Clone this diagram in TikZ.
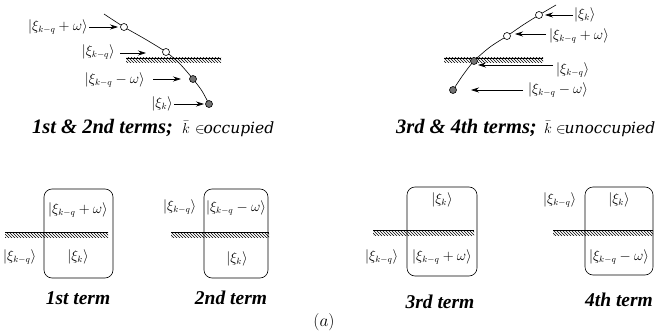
\documentclass[tikz,border=0pt]{standalone}
\usepackage{fontspec}
\setmainfont{Liberation Serif}
\newfontfamily\capfont{DejaVu Serif}
\usetikzlibrary{arrows.meta,patterns}
\newcommand\hatchline[3]{%
  \fill[pattern=north west lines] (#1,#3) rectangle (#2,#3+5);
  \draw[line width=0.9pt] (#1,#3) -- (#2,#3);}
\newcommand\ketA{$\left|\xi_{k-q}+\omega\right\rangle$}
\newcommand\ketB{$\left|\xi_{k-q}\right\rangle$}
\newcommand\ketC{$\left|\xi_{k-q}-\omega\right\rangle$}
\newcommand\ketD{$\left|\xi_{k}\right\rangle$}
\tikzset{
  ket/.style={inner sep=1pt,font=\fontsize{13.5}{15}\selectfont},
  arr/.style={line width=0.6pt,-{Stealth[length=8pt,width=5pt]}},
  opendot/.style={circle,draw,line width=0.6pt,fill=white,minimum size=7pt,inner sep=0pt},
  fulldot/.style={circle,draw,line width=0.6pt,fill=black!55,minimum size=7pt,inner sep=0pt},
  termbox/.style={draw,line width=0.6pt,rounded corners=8pt},
  caption/.style={font=\fontsize{19.5}{21}\selectfont\bfseries\itshape,inner sep=0pt},
  topcap/.style={font=\fontsize{20.5}{22}\selectfont\bfseries\itshape,inner sep=0pt},
  capreg/.style={font=\fontsize{15.5}{18}\selectfont\capfont\itshape,inner sep=0pt,anchor=base west},
  band/.style={line width=0.6pt}
}
\begin{document}
\begin{tikzpicture}[x=1pt,y=-1pt]
\useasboundingbox (0,0) rectangle (663,334);
% ---------- top left
\hatchline{126}{221}{58}
\draw[band] plot[smooth] coordinates {(104,14)(124,27)(145,39)(166,52)(180,64)(193,79)(202,91)(209,104)};
\node[opendot] (o1) at (124,27) {};
\node[opendot] (o2) at (166,52) {};
\node[fulldot] (f1) at (193,79) {};
\node[fulldot] (f2) at (209,104) {};
\node[ket,anchor=east] (L1) at (89,27) {\ketA};
\node[ket,anchor=east] (L2) at (116,52) {\ketB};
\node[ket,anchor=east] (L3) at (146,80) {\ketC};
\node[ket,anchor=east] (L4) at (174,104) {\ketD};
\coordinate (a1) at (118,27);
\coordinate (a2s) at (120,53); \coordinate (a2) at (146,53);
\coordinate (a3s) at (153,79); \coordinate (a3) at (181,79);
\coordinate (a4) at (204,104);
\draw[arr] (L1.east) -- (a1);
\draw[arr] (a2s) -- (a2);
\draw[arr] (a3s) -- (a3);
\draw[arr] (L4.east) -- (a4);
\node[topcap,anchor=base west] (cap1) at (32,133) {1st \& 2nd terms;};
\node[capreg] (cap1o) at (182,133) {$\bar{k}$\hspace{5pt}$\in$\hspace{-1pt}occupied};
% ---------- top right
\hatchline{444}{543}{58}
\draw[band] plot[smooth] coordinates {(556,5)(539,15)(523,25)(507,36)(490,47)(474,61)(463,75)(453,90)};
\node[opendot] (o3) at (539,15) {};
\node[opendot] (o4) at (507,36) {};
\node[fulldot] (f3) at (474,61) {};
\node[fulldot] (f4) at (453,90) {};
\node[ket,anchor=west] (R1) at (573,15) {\ketD};
\node[ket,anchor=west] (R2) at (548,36) {\ketA};
\node[ket,anchor=west] (R3) at (555,70) {\ketB};
\node[ket,anchor=west] (R4) at (527,90) {\ketC};
\coordinate (b1) at (545,15);
\coordinate (b2s) at (546,34); \coordinate (b2) at (515,34);
\coordinate (b3s) at (553,65); \coordinate (b3) at (478,65);
\coordinate (b4s) at (523,90); \coordinate (b4) at (471,90);
\draw[arr] (R1.west) -- (b1);
\draw[arr] (b2s) -- (b2);
\draw[arr] (b3s) -- (b3);
\draw[arr] (b4s) -- (b4);
\node[topcap,anchor=base east] (cap2) at (537,133) {3rd \& 4th terms;};
\node[capreg] (cap2o) at (544,133) {$\bar{k}$\hspace{4pt}$\in$\hspace{-1pt}unoccupied};
% ---------- bottom: 1st term
\hatchline{5}{108}{232}
\draw[termbox] (44,189) rectangle (113,278);
\node[ket] (t1a) at (78,210) {\ketA};
\node[ket] (t1b) at (78,257) {\ketD};
\node[ket,anchor=west] (t1c) at (2,257) {\ketB};
\node[caption] (c1) at (78,298) {1st term};
% 2nd term
\hatchline{171}{269}{232}
\draw[termbox] (204,189) rectangle (268,278);
\node[ket] (t2a) at (236,208) {\ketC};
\node[ket] (t2b) at (237,259) {\ketD};
\node[ket,anchor=west] (t2c) at (162,207) {\ketB};
\node[caption] (c2) at (231,298) {2nd term};
% 3rd term
\hatchline{373}{474}{230}
\draw[termbox] (407,187) rectangle (477,276);
\node[ket] (t3a) at (442,200) {\ketD};
\node[ket] (t3b) at (442,257) {\ketA};
\node[ket,anchor=west] (t3c) at (364,257) {\ketB};
\node[caption] (c3) at (440,302) {3rd term};
% 4th term
\hatchline{553}{653}{230}
\draw[termbox] (585,187) rectangle (653,275);
\node[ket] (t4a) at (619,200) {\ketD};
\node[ket] (t4b) at (619,257) {\ketC};
\node[ket,anchor=west] (t4c) at (542,200) {\ketB};
\node[caption] (c4) at (619,300) {4th term};
% label
\node[font=\fontsize{18}{20}\selectfont] (lab) at (324,322) {$(a)$};
\end{tikzpicture}
\end{document}
